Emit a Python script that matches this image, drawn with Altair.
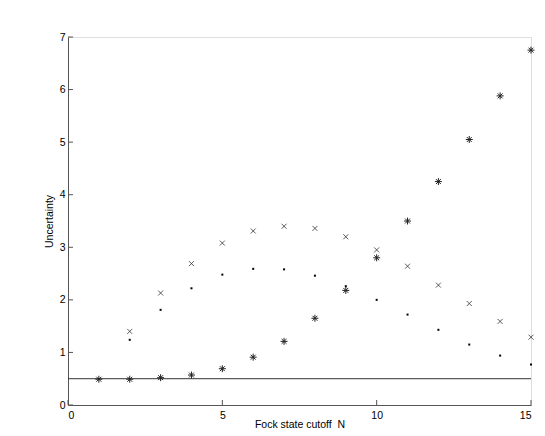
import altair as alt
import pandas as pd

# Data
n_star = [1, 2, 3, 4, 5, 6, 7, 8, 9, 10, 11, 12, 13, 14, 15]
v_star = [0.49, 0.49, 0.52, 0.57, 0.69, 0.91, 1.21, 1.65, 2.18, 2.80, 3.50, 4.25, 5.05, 5.88, 6.75]

n_cross = [2, 3, 4, 5, 6, 7, 8, 9, 10, 11, 12, 13, 14, 15]
v_cross = [1.40, 2.13, 2.69, 3.08, 3.31, 3.40, 3.36, 3.20, 2.95, 2.64, 2.28, 1.93, 1.59, 1.29]

n_dot = [2, 3, 4, 5, 6, 7, 8, 9, 10, 11, 12, 13, 14, 15]
v_dot = [1.24, 1.81, 2.22, 2.48, 2.59, 2.58, 2.46, 2.26, 2.00, 1.72, 1.43, 1.15, 0.94, 0.77]

ref_level = [0.5]
x_ticks = [0, 5, 10, 15]
y_ticks = [0, 1, 2, 3, 4, 5, 6, 7]

W, H = 463, 368
FONT = "Liberation Sans"
AX = "#555555"

df_star = pd.DataFrame({"N": n_star, "U": v_star})
df_cross = pd.DataFrame({"N": n_cross, "U": v_cross})
df_dot = pd.DataFrame({"N": n_dot, "U": v_dot})
df_ref = pd.DataFrame({"U": ref_level})
df_xt = pd.DataFrame({"N": x_ticks})
df_yt = pd.DataFrame({"U": y_ticks})

xscale = alt.Scale(domain=[0, 15], nice=False, zero=False)
yscale = alt.Scale(domain=[0, 7], nice=False, zero=False)

xaxis = alt.Axis(values=x_ticks, title="Fock state cutoff \u00a0N", grid=False,
                 tickSize=0, labelPadding=5, domainColor=AX, labelColor="black",
                 labelFont=FONT, labelFontSize=10.5, titleFont=FONT, titleFontSize=10.5,
                 titleFontWeight="normal", titleColor="black",
                 titleY=22, titleBaseline="alphabetic")
yaxis = alt.Axis(values=y_ticks, title="Uncertainty", grid=False,
                 tickSize=0, labelPadding=3, domainColor=AX, labelColor="black",
                 labelFont=FONT, labelFontSize=10.5, titleFont=FONT, titleFontSize=10.5,
                 titleFontWeight="normal", titleColor="black", titlePadding=5)

X = alt.X("N:Q", scale=xscale, axis=xaxis)
Y = alt.Y("U:Q", scale=yscale, axis=yaxis)

ref = alt.Chart(df_ref).mark_rule(color="#333333", strokeWidth=1).encode(
    y=alt.Y("U:Q", scale=yscale, axis=yaxis))

xt = alt.Chart(df_xt).mark_rule(color=AX, strokeWidth=1).encode(
    x=alt.X("N:Q", scale=xscale, axis=xaxis), y=alt.value(H), y2=alt.value(H - 5))
yt = alt.Chart(df_yt).mark_rule(color=AX, strokeWidth=1).encode(
    y=alt.Y("U:Q", scale=yscale, axis=yaxis), x=alt.value(0), x2=alt.value(5))

CROSS = "M-1,-1L1,1M-1,1L1,-1"
AST = "M-1,0L1,0M0,-1L0,1M-0.7,-0.7L0.7,0.7M-0.7,0.7L0.7,-0.7"

stars = alt.Chart(df_star).mark_point(shape=AST, filled=False, size=49,
                                      stroke="#222222", strokeWidth=1, opacity=1).encode(x=X, y=Y)
crosses = alt.Chart(df_cross).mark_point(shape=CROSS, filled=False, size=25,
                                         stroke="#333333", strokeWidth=0.8, opacity=1).encode(x=X, y=Y)
dots = alt.Chart(df_dot).mark_point(shape="square", filled=True, size=4,
                                    color="black", opacity=1).encode(x=X, y=Y)

chart = alt.layer(ref, xt, yt, crosses, dots, stars).properties(
    width=W, height=H,
    autosize=alt.AutoSizeParams(type="none"),
    padding={"left": 60, "top": 29, "right": 6, "bottom": 23},
).configure_view(stroke=None).configure(background="white")

chart.save("out.html", embed_options={"renderer": "svg", "actions": False})
